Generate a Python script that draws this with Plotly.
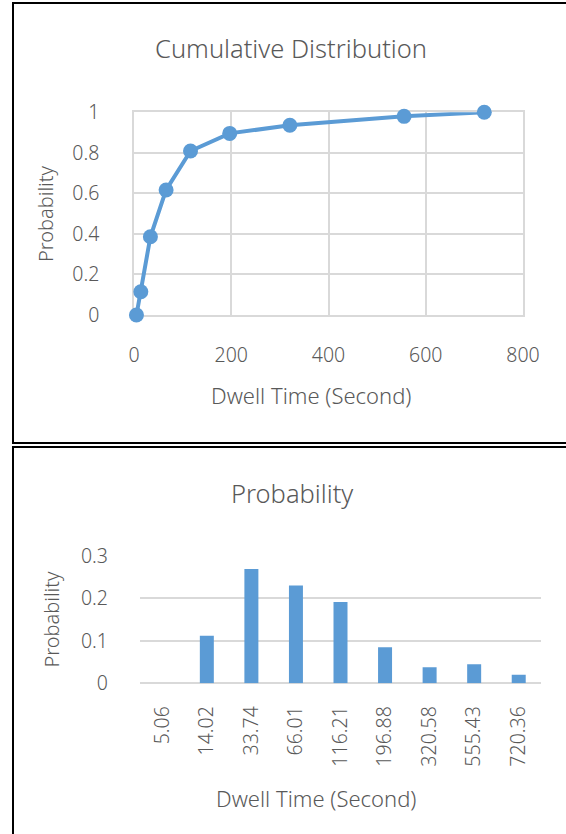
import plotly.graph_objects as go

# ---- data ----
dwell_time = [5.06, 14.02, 33.74, 66.01, 116.21, 196.88, 320.58, 555.43, 720.36]
dwell_labels = ["5.06", "14.02", "33.74", "66.01", "116.21", "196.88", "320.58", "555.43", "720.36"]
cumulative = [0.0, 0.115, 0.386, 0.617, 0.809, 0.896, 0.936, 0.980, 1.0]
probability = [0.0, 0.112, 0.269, 0.230, 0.191, 0.085, 0.038, 0.045, 0.020]

W, H = 566, 834
def px(x):
    return x / W
def py(y):
    return 1 - y / H

BLUE = "#5B9BD5"
GRID = "#D9D9D9"
TXT = "#595959"
FONT = "Noto Sans"

fig = go.Figure()
fig.add_trace(go.Scatter(
    x=dwell_time, y=cumulative, mode="lines+markers",
    line=dict(color=BLUE, width=4),
    marker=dict(color=BLUE, size=15, line=dict(width=0)),
    cliponaxis=False, xaxis="x", yaxis="y", showlegend=False))
fig.add_trace(go.Bar(
    x=dwell_labels, y=probability, marker=dict(color=BLUE, line=dict(width=0)),
    xaxis="x2", yaxis="y2", showlegend=False))

tickfont = dict(family=FONT, size=19.5, color=TXT, weight=300)
common = dict(automargin=False, layer="below traces", ticks="", tickfont=tickfont)
fig.update_layout(
    width=W, height=H, margin=dict(l=0, r=0, t=0, b=0, pad=0, autoexpand=False),
    paper_bgcolor="white", plot_bgcolor="white",
    bargap=0.686,
    xaxis=dict(domain=[px(134), px(523)], range=[0, 800], dtick=200, tick0=0,
               showgrid=True, gridcolor=GRID, gridwidth=1.5, zeroline=False,
               showline=True, mirror=True, linecolor=GRID, linewidth=1.5,
               ticklabelstandoff=22, anchor="y", **common),
    yaxis=dict(domain=[py(315), py(112.3)], range=[0, 1], dtick=0.2, tick0=0,
               showgrid=True, gridcolor=GRID, gridwidth=1.5, zeroline=False,
               showline=True, mirror=True, linecolor=GRID, linewidth=1.5,
               ticklabelstandoff=29, anchor="x", **common),
    xaxis2=dict(domain=[px(140), px(541)], type="category", range=[-0.5, 8.5],
                showgrid=False, zeroline=False, showline=False,
                tickangle=-90, ticklabelstandoff=18, anchor="y2", **common),
    yaxis2=dict(domain=[py(683.3), py(555.7)], range=[0, 0.3], dtick=0.1, tick0=0,
                showgrid=True, gridcolor=GRID, gridwidth=1.5,
                zeroline=True, zerolinecolor=GRID, zerolinewidth=1.5,
                showline=False, ticklabelstandoff=31,
                anchor="x2", **common),
)

def ann(text, x, y, size, angle=0):
    fig.add_annotation(text=text, x=px(x), y=py(y), xref="paper", yref="paper",
                       xanchor="center", yanchor="middle", showarrow=False,
                       textangle=angle, font=dict(family=FONT, size=size, color=TXT, weight=300))

ann("Cumulative Distribution", 291, 48, 25.5)
ann("Probability", 46, 214, 20, -90)
ann("Dwell Time (Second)", 311, 395, 22)
ann("Probability", 291.5, 492.7, 25.5)
ann("Probability", 50.5, 619, 20, -90)
ann("Dwell Time (Second)", 316, 797.7, 22)

# panel borders
fig.add_shape(type="rect", xref="paper", yref="paper",
              x0=px(13), x1=px(580), y0=py(443), y1=py(3),
              line=dict(color="black", width=2), fillcolor="rgba(0,0,0,0)")
fig.add_shape(type="rect", xref="paper", yref="paper",
              x0=px(13), x1=px(580), y0=py(850), y1=py(447),
              line=dict(color="black", width=2), fillcolor="rgba(0,0,0,0)")

fig.write_html("out.html")
